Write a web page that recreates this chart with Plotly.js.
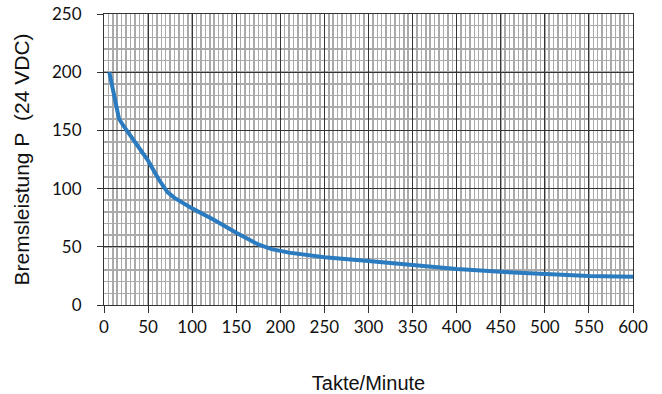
<!DOCTYPE html>
<html>
<head>
<meta charset="utf-8">
<script src="https://cdn.plot.ly/plotly-3.0.1.min.js"></script>
<style>html,body{margin:0;padding:0;background:#fff}#chart{width:662px;height:394px}</style>
</head>
<body>
<div id="chart"></div>
<script>
// Data
const taktePerMinute = [6, 17, 22, 35, 50, 62, 72, 80, 100, 125, 150, 175, 190, 210, 250, 300, 350, 400, 450, 500, 550, 600];
const bremsleistung = [200, 160, 154, 140, 124, 108, 97, 92, 83, 73, 62, 52, 48, 45, 41, 37.8, 34, 31, 28.5, 26.6, 25, 24.2];
const xTickValues = [0, 50, 100, 150, 200, 250, 300, 350, 400, 450, 500, 550, 600];
const yTickValues = [0, 50, 100, 150, 200, 250];
const xTitle = "Takte/Minute";
const yTitle = "Bremsleistung P\u00a0\u00a0(24 VDC)";

const trace = {
  x: taktePerMinute,
  y: bremsleistung,
  type: "scatter",
  mode: "lines",
  line: {color: "#2a7bbf", width: 4, shape: "linear"},
  hoverinfo: "skip"
};

const tickFont = {family: "Lato, 'Open Sans', sans-serif", size: 17, color: "#111"};
const xTitleFont = {family: "'Liberation Sans', Arial, sans-serif", size: 20, color: "#111"};
const yTitleFont = {family: "'Liberation Sans', Arial, sans-serif", size: 21, color: "#111"};

const layout = {
  width: 662,
  height: 394,
  margin: {l: 104, r: 29, t: 14, b: 89},
  paper_bgcolor: "#fff",
  plot_bgcolor: "#fff",
  showlegend: false,
  xaxis: {
    range: [0, 600],
    tickvals: xTickValues,
    ticktext: xTickValues.map(String),
    ticks: "outside",
    ticklen: 7,
    tickwidth: 1,
    tickcolor: "#333",
    tickfont: tickFont,
    showline: true,
    mirror: true,
    linecolor: "#333",
    linewidth: 1,
    showgrid: true,
    gridcolor: "#333",
    gridwidth: 1,
    zeroline: false,
    minor: {dtick: 5, showgrid: true, gridcolor: "#aaaaaa", gridwidth: 1.5, ticks: ""},
    title: {text: xTitle, font: xTitleFont, standoff: 39},
    fixedrange: true
  },
  yaxis: {
    range: [0, 250],
    tickvals: yTickValues,
    ticktext: yTickValues.map(String),
    ticks: "outside",
    ticklen: 6,
    tickwidth: 1,
    tickcolor: "#333",
    tickfont: tickFont,
    ticklabelstandoff: 12,
    showline: true,
    mirror: true,
    linecolor: "#333",
    linewidth: 1,
    showgrid: true,
    gridcolor: "#333",
    gridwidth: 1,
    zeroline: false,
    minor: {dtick: 10, showgrid: true, gridcolor: "#aaaaaa", gridwidth: 1.5, ticks: ""},
    title: {text: yTitle, font: yTitleFont, standoff: 16},
    fixedrange: true
  }
};

Plotly.newPlot("chart", [trace], layout, {displayModeBar: false, staticPlot: true});
</script>
</body>
</html>
